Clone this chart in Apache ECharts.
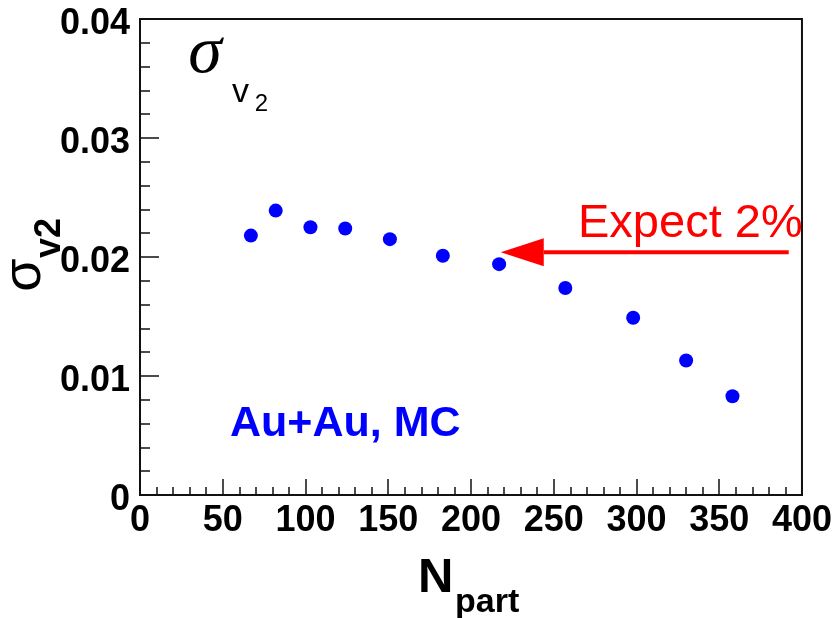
<!DOCTYPE html>
<html>
<head>
<meta charset="utf-8">
<script src="https://cdn.jsdelivr.net/npm/echarts@6/dist/echarts.min.js"></script>
<style>
  html, body { margin: 0; padding: 0; background: #fff; }
  #chart { width: 835px; height: 618px; }
</style>
</head>
<body>
<div id="chart"></div>
<script>
// Event-by-event v2 fluctuation width versus number of participants
const npart = [67, 82, 103, 124, 151, 183, 217, 257, 298, 330, 358];
const sigmaV2 = [0.0218, 0.0239, 0.0225, 0.0224, 0.0215, 0.0201, 0.0194, 0.0174, 0.0149, 0.0113, 0.0083];

// "Expect 2%" arrow: tail and tip in data units
const arrowTail = [392, 0.0204];
const arrowTip = [218, 0.0204];

const xTicks = { min: 0, max: 400, interval: 50 };
const yTicks = { min: 0, max: 0.04, interval: 0.01 };

const SANS = '"Liberation Sans", Arial, sans-serif';
const SERIF = '"Liberation Serif", "Times New Roman", serif';

const chart = echarts.init(document.getElementById('chart'), null, { renderer: 'canvas' });

const axisCommon = {
  axisLine: { show: true, lineStyle: { color: '#111', width: 2 } },
  axisTick: { show: true, inside: true, lineStyle: { color: '#111', width: 1.5 } },
  minorTick: { show: true, splitNumber: 5, lineStyle: { color: '#111', width: 1.5 } },
  splitLine: { show: false },
  minorSplitLine: { show: false }
};

chart.setOption({
  animation: false,
  backgroundColor: '#fff',
  grid: {
    left: 140, right: 32, top: 19, bottom: 123,
    show: true, borderColor: '#111', borderWidth: 2
  },
  xAxis: Object.assign({}, axisCommon, {
    type: 'value',
    min: xTicks.min, max: xTicks.max, interval: xTicks.interval,
    axisTick: Object.assign({}, axisCommon.axisTick, { length: 16 }),
    minorTick: Object.assign({}, axisCommon.minorTick, { length: 8 }),
    axisLabel: {
      color: '#000', fontFamily: SANS, fontWeight: 'bold', fontSize: 36, margin: 8
    }
  }),
  yAxis: Object.assign({}, axisCommon, {
    type: 'value',
    min: yTicks.min, max: yTicks.max, interval: yTicks.interval,
    axisTick: Object.assign({}, axisCommon.axisTick, { length: 19 }),
    minorTick: Object.assign({}, axisCommon.minorTick, { length: 10 }),
    axisLabel: {
      color: '#000', fontFamily: SANS, fontWeight: 'bold', fontSize: 36, margin: 10,
      verticalAlign: 'top', lineHeight: 10,
      formatter: v => (v === 0 ? '0' : v.toFixed(2))
    }
  }),
  series: [
    {
      type: 'scatter',
      data: npart.map((x, i) => [x, sigmaV2[i]]),
      symbol: 'circle',
      symbolSize: 14,
      itemStyle: { color: '#0000ff', opacity: 1 },
      z: 3
    },
    {
      type: 'custom',
      data: [[arrowTail[0], arrowTail[1], arrowTip[0], arrowTip[1]]],
      encode: { x: [0, 2], y: [1, 3] },
      renderItem: function (params, api) {
        const tail = api.coord([api.value(0), api.value(1)]);
        const tip = api.coord([api.value(2), api.value(3)]);
        const headLen = 43, headHalf = 14;
        const dir = tail[0] > tip[0] ? 1 : -1;
        const baseX = tip[0] + dir * headLen;
        return {
          type: 'group',
          children: [
            {
              type: 'line',
              shape: { x1: tail[0], y1: tail[1], x2: baseX, y2: tip[1] },
              style: { stroke: '#ff0000', lineWidth: 4 }
            },
            {
              type: 'polygon',
              shape: { points: [[tip[0], tip[1]], [baseX, tip[1] - headHalf], [baseX, tip[1] + headHalf]] },
              style: { fill: '#ff0000' }
            }
          ]
        };
      },
      z: 4
    }
  ],
  graphic: [
    // y-axis title: sigma with v2 subscript, rotated
    {
      type: 'text', x: 25, y: 275, rotation: Math.PI / 2,
      style: { text: 'σ', font: `54px ${SANS}`, fill: '#000', align: 'center', verticalAlign: 'middle' }
    },
    {
      type: 'text', x: 50, y: 238, rotation: Math.PI / 2,
      style: { text: 'v2', font: `bold 36px ${SANS}`, fill: '#000', align: 'center', verticalAlign: 'middle' }
    },
    // x-axis title: N_part
    {
      type: 'text', x: 418, y: 578,
      style: { text: 'N', font: `bold 49px ${SANS}`, fill: '#000', align: 'left', verticalAlign: 'middle' }
    },
    {
      type: 'text', x: 455, y: 603,
      style: { text: 'part', font: `bold 34px ${SANS}`, fill: '#000', align: 'left', verticalAlign: 'middle' }
    },
    // in-frame label: sigma_{v_2}
    {
      type: 'text', x: 205, y: 54,
      style: { text: 'σ', font: `italic 68px ${SERIF}`, fill: '#000', align: 'center', verticalAlign: 'middle' }
    },
    {
      type: 'text', x: 240.5, y: 93,
      style: { text: 'v', font: `34px ${SANS}`, fill: '#000', align: 'center', verticalAlign: 'middle' }
    },
    {
      type: 'text', x: 261.5, y: 104,
      style: { text: '2', font: `24px ${SANS}`, fill: '#000', align: 'center', verticalAlign: 'middle' }
    },
    // annotations
    {
      type: 'text', x: 578, y: 224,
      style: { text: 'Expect 2%', font: `47px ${SANS}`, fill: '#ff0000', align: 'left', verticalAlign: 'middle' }
    },
    {
      type: 'text', x: 230, y: 424,
      style: { text: 'Au+Au, MC', font: `bold 43px ${SANS}`, fill: '#0000ff', align: 'left', verticalAlign: 'middle' }
    }
  ]
});
</script>
</body>
</html>
